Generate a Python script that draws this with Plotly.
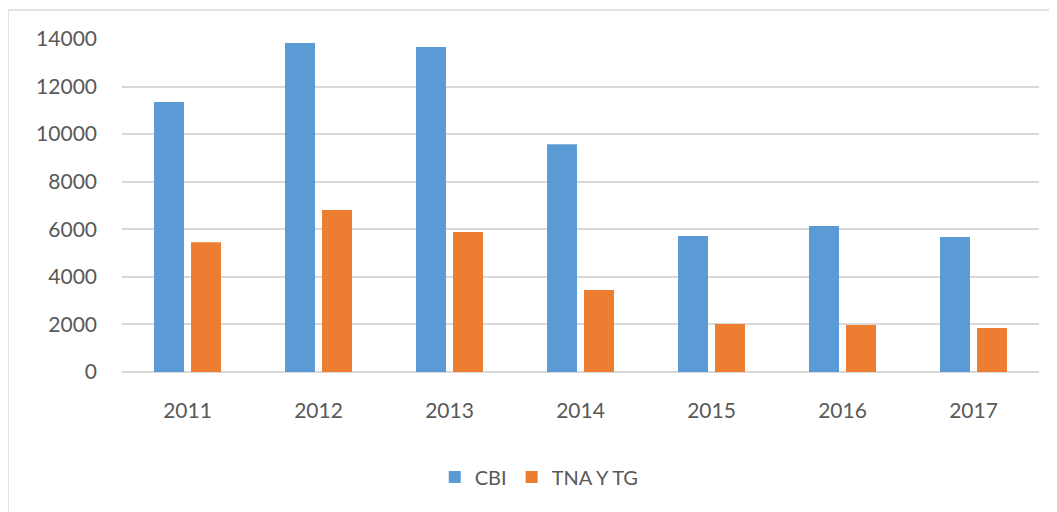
import plotly.graph_objects as go

years = ["2011", "2012", "2013", "2014", "2015", "2016", "2017"]
cbi = [11350, 13830, 13660, 9580, 5720, 6140, 5680]
tna = [5460, 6810, 5890, 3450, 2020, 1980, 1850]
y_ticks = [0, 2000, 4000, 6000, 8000, 10000, 12000, 14000]

FONT = "Lato, Open Sans, sans-serif"
TXT = "#595959"
FS = 21

fig = go.Figure()
fig.add_trace(go.Bar(x=years, y=cbi, name="CBI", marker_color="#5B9BD5", marker_line_width=0))
fig.add_trace(go.Bar(x=years, y=tna, name="TNA Y TG", marker_color="#ED7D31", marker_line_width=0))

fig.update_layout(
    width=1049, height=504,
    margin=dict(l=114, r=18, t=31, b=140, autoexpand=False),
    paper_bgcolor="white", plot_bgcolor="white",
    barmode="group", bargap=0.435, bargroupgap=0.19,
    font=dict(family=FONT, size=FS, color=TXT),
    showlegend=True,
    legend=dict(orientation="h", x=0.455, xanchor="center", y=-0.315, yanchor="middle",
                font=dict(size=20, color=TXT), itemwidth=30, traceorder="normal"),
    xaxis=dict(showgrid=False, showline=False, ticks="", ticklabelstandoff=24,
               tickfont=dict(size=FS, color=TXT)),
    yaxis=dict(range=[0, 14000], tickvals=y_ticks, ticktext=[str(v) for v in y_ticks],
               showgrid=True, gridcolor="#d9d9d9", gridwidth=1.5,
               zeroline=True, zerolinecolor="#d9d9d9", zerolinewidth=1.5, showline=False,
               ticks="", ticklabelstandoff=24, tickfont=dict(size=FS, color=TXT)),
    shapes=[
        dict(type="line", xref="paper", yref="paper", x0=-0.1243, x1=-0.1243, y0=1.087, y1=-0.5,
             line=dict(color="#d9d9d9", width=1.5)),
        dict(type="line", xref="paper", yref="paper", x0=-0.1243, x1=1.05, y0=1.087, y1=1.087,
             line=dict(color="#d9d9d9", width=1.5)),
    ],
)

fig.write_html("out.html")
